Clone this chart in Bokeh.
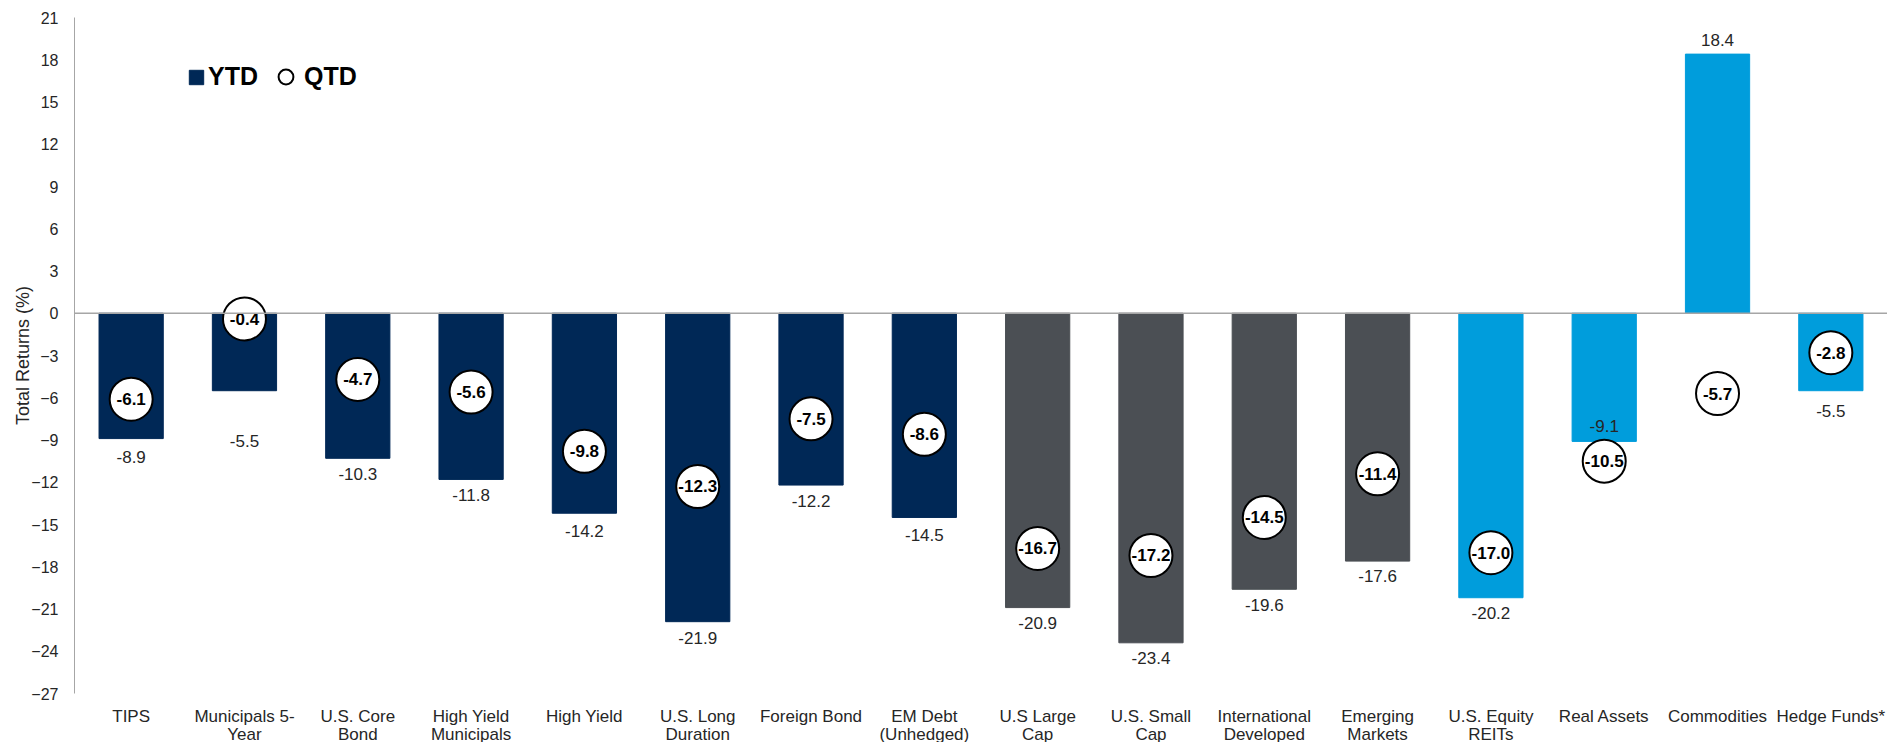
import numpy as np
from bokeh.plotting import figure
from bokeh.models import (ColumnDataSource, Range1d, FixedTicker, Span,
                          Legend, LegendItem, LinearAxis)
from bokeh.core.properties import value
from bokeh.embed import file_html
from bokeh.resources import INLINE

# ---- data ----
categories = ["TIPS", "Municipals 5-Year", "U.S. Core Bond", "High Yield Municipals",
              "High Yield", "U.S. Long Duration", "Foreign Bond", "EM Debt (Unhedged)",
              "U.S Large Cap", "U.S. Small Cap", "International Developed",
              "Emerging Markets", "U.S. Equity REITs", "Real Assets", "Commodities",
              "Hedge Funds*"]
tick_line1 = ["TIPS", "Municipals 5-", "U.S. Core", "High Yield",
              "High Yield", "U.S. Long", "Foreign Bond", "EM Debt",
              "U.S Large", "U.S. Small", "International",
              "Emerging", "U.S. Equity", "Real Assets", "Commodities",
              "Hedge Funds*"]
tick_line2 = ["", "Year", "Bond", "Municipals",
              "", "Duration", "", "(Unhedged)",
              "Cap", "Cap", "Developed",
              "Markets", "REITs", "", "",
              ""]
asset_class = ["Fixed Income"] * 8 + ["Equity"] * 4 + ["Real Assets & Alternatives"] * 4
ytd = [-8.9, -5.5, -10.3, -11.8, -14.2, -21.9, -12.2, -14.5,
       -20.9, -23.4, -19.6, -17.6, -20.2, -9.1, 18.4, -5.5]
qtd = [-6.1, -0.4, -4.7, -5.6, -9.8, -12.3, -7.5, -8.6,
       -16.7, -17.2, -14.5, -11.4, -17.0, -10.5, -5.7, -2.8]
y_ticks = [-27, -24, -21, -18, -15, -12, -9, -6, -3, 0, 3, 6, 9, 12, 15, 18, 21]

# ---- styles ----
class_colors = {"Fixed Income": "#002856", "Equity": "#4B4F54",
                "Real Assets & Alternatives": "#009DDC"}
label_offsets_px = [18, 50, 16, 16, 18, 16, 16, 18, 15, 15, 16, 15, 15, -15, -14, 20]
FONT = "Liberation Sans"
TXT = "#262626"
FRAME_H = 676

idx = list(range(len(categories)))

src = ColumnDataSource(dict(
    x=idx, cat=categories, ytd=ytd, qtd=qtd,
    color=[class_colors[c] for c in asset_class],
    ytd_txt=[f"{v:.1f}" for v in ytd],
    qtd_txt=[f"{v:.1f}" for v in qtd],
    yoff=label_offsets_px,
))

p = figure(x_range=Range1d(-0.5, len(categories) - 0.5),
           y_range=Range1d(-27, 21),
           frame_width=1813, frame_height=FRAME_H,
           min_border_left=74, min_border_top=17, min_border_right=0, min_border_bottom=0,
           output_backend="svg", toolbar_location=None)
p.outline_line_color = None
p.xgrid.visible = False
p.ygrid.visible = False
p.background_fill_color = "white"

p.add_layout(Span(location=0, dimension="width", line_color="#a6a6a6", line_width=1.5))

p.vbar(x="x", top="ytd", bottom=0, width=0.567, source=src,
       fill_color="color", line_color="color")

p.text(x="x", y="ytd", text="ytd_txt", y_offset="yoff", source=src,
       text_align="center", text_baseline="middle",
       text_font=value(FONT), text_font_size="17px", text_color=TXT)

p.scatter(x="x", y="qtd", source=src, marker="circle", size=43,
          fill_color="white", line_color="black", line_width=2)
p.text(x="x", y="qtd", text="qtd_txt", source=src,
       text_align="center", text_baseline="middle",
       text_font=value(FONT), text_font_size="17px", text_font_style="bold",
       text_color="black")

# legend proxies (not drawn: NaN values)
leg_ytd = p.vbar(x=[0], top=np.array([np.nan]), bottom=0, width=0.5,
                 fill_color=class_colors["Fixed Income"],
                 line_color=class_colors["Fixed Income"])
leg_qtd = p.scatter(x=[0], y=np.array([np.nan]), marker="circle",
                    fill_color="white", line_color="black", line_width=2, size=14)


def make_legend(label, renderer, x, y, glyph, standoff):
    return Legend(items=[LegendItem(label=label, renderers=[renderer])],
                  orientation="horizontal", location=(x, y),
                  glyph_width=glyph, glyph_height=glyph, label_standoff=standoff,
                  label_text_font=FONT, label_text_font_size="25px",
                  label_text_font_style="bold", label_text_color="black",
                  border_line_color=None, background_fill_alpha=0,
                  padding=0, margin=0)


p.add_layout(make_legend("YTD", leg_ytd, 113, FRAME_H - 74, 18, 3))
p.add_layout(make_legend("QTD", leg_qtd, 193, FRAME_H - 78, 37, 0))

# axes
ya = p.yaxis[0]
ya.ticker = FixedTicker(ticks=y_ticks)
ya.axis_line_color = "#a6a6a6"
ya.major_tick_line_color = None
ya.minor_tick_line_color = None
ya.major_tick_out = 0
ya.major_label_standoff = 16
ya.major_label_text_font = FONT
ya.major_label_text_font_size = "16px"
ya.major_label_text_color = TXT
ya.axis_label = "Total Returns (%)"
ya.axis_label_text_font = FONT
ya.axis_label_text_font_size = "18px"
ya.axis_label_text_font_style = "normal"
ya.axis_label_text_color = TXT
ya.axis_label_standoff = -5


def style_x(ax, standoff, labels):
    ax.ticker = FixedTicker(ticks=idx)
    ax.axis_line_color = None
    ax.major_tick_line_color = None
    ax.minor_tick_line_color = None
    ax.major_tick_out = 0
    ax.major_label_standoff = standoff
    ax.major_label_text_font = FONT
    ax.major_label_text_font_size = "17px"
    ax.major_label_text_color = TXT
    ax.major_label_overrides = {i: lab for i, lab in zip(idx, labels)}


style_x(p.xaxis[0], 13, tick_line1)
xa2 = LinearAxis()
style_x(xa2, -4, tick_line2)
p.add_layout(xa2, "below")

open("out.html", "w").write(file_html(p, INLINE))
